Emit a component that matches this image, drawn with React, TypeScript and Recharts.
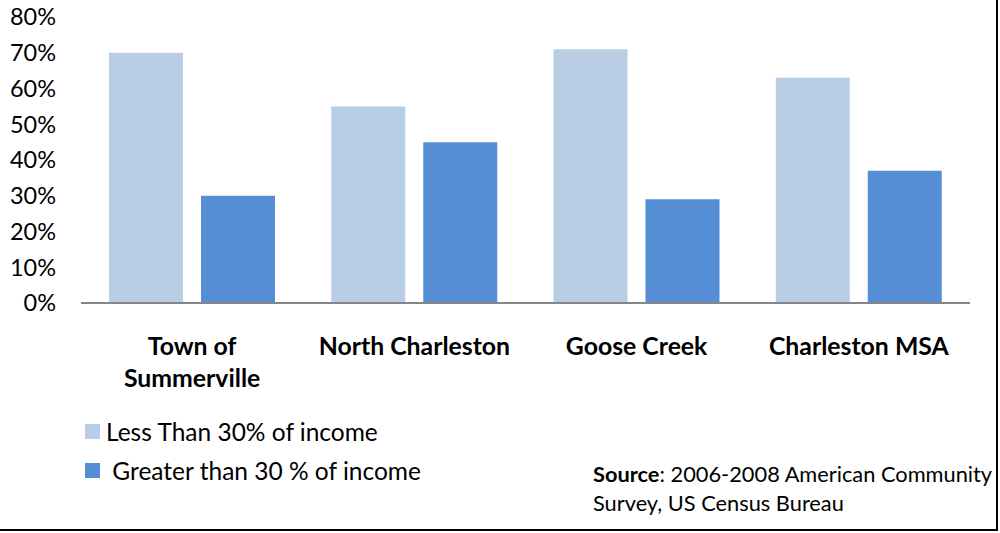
import { BarChart, Bar, XAxis, YAxis } from "recharts";

const categories = ["Town of\nSummerville", "North Charleston", "Goose Creek", "Charleston MSA"];
const lessThan30 = [70, 55, 71, 63];
const greaterThan30 = [30, 45, 29, 37];
const yTicks = [0, 10, 20, 30, 40, 50, 60, 70, 80];

const SERIES = [
  { key: "less", name: "Less Than 30% of income", color: "#b9cde5" },
  { key: "greater", name: " Greater than 30 % of income", color: "#558ed5" },
];

const FONT = "Lato, 'Open Sans', sans-serif";

const data = categories.map((c, i) => ({
  name: c,
  less: lessThan30[i],
  greater: greaterThan30[i],
}));

function CategoryTick(props: any) {
  const { x, y, payload } = props;
  const lines = String(payload.value).split("\n");
  return (
    <text
      x={x}
      y={y + 44}
      textAnchor="middle"
      fontFamily={FONT}
      fontWeight="bold"
      fontSize={24.8}
      fill="#000"
    >
      {lines.map((l: string, i: number) => (
        <tspan key={i} x={x} dy={i === 0 ? 0 : 32}>
          {l}
        </tspan>
      ))}
    </text>
  );
}

export default function App() {
  return (
    <div
      style={{
        position: "fixed",
        top: 0,
        left: 0,
        width: 1000,
        height: 533,
        background: "#fff",
        fontFamily: FONT,
      }}
    >
      <BarChart
        width={1000}
        height={533}
        data={data}
        margin={{ top: 17, right: 30, bottom: 130, left: 0 }}
        barCategoryGap={28}
        barGap={18}
      >
        <YAxis
          width={81}
          domain={[0, 80]}
          ticks={yTicks}
          axisLine={false}
          tickLine={false}
          tickMargin={19}
          tickFormatter={(v) => `${v}%`}
          tick={{ fill: "#000", fontSize: 23.5, fontFamily: FONT }}
        />
        <XAxis
          dataKey="name"
          height={100}
          axisLine={{ stroke: "#868686", strokeWidth: 2 }}
          tickLine={false}
          tick={<CategoryTick />}
          interval={0}
        />
        {SERIES.map((s) => (
          <Bar key={s.key} dataKey={s.key} name={s.name} fill={s.color} isAnimationActive={false} />
        ))}
      </BarChart>

      <div style={{ position: "absolute", left: 85, top: 416 }}>
        {SERIES.map((s, i) => (
          <div
            key={s.key}
            style={{
              display: "flex",
              alignItems: "center",
              height: 30,
              marginBottom: i === 0 ? 9 : 0,
              fontSize: 24.5,
              color: "#000",
              whiteSpace: "pre",
            }}
          >
            <span style={{ display: "inline-block", width: 15, height: 15, background: s.color, marginRight: 6 }} />
            {s.name}
          </div>
        ))}
      </div>

      <div
        style={{
          position: "absolute",
          left: 593,
          top: 459,
          fontSize: 21.8,
          lineHeight: "29px",
          color: "#000",
          whiteSpace: "nowrap",
        }}
      >
        <b>Source</b>: 2006-2008 American Community
        <br />
        Survey, US Census Bureau
      </div>

      <div
        style={{
          position: "absolute",
          left: 0,
          top: 0,
          width: 998,
          height: 531,
          borderRight: "2px solid #000",
          borderBottom: "2px solid #000",
          boxSizing: "border-box",
          pointerEvents: "none",
        }}
      />
    </div>
  );
}
